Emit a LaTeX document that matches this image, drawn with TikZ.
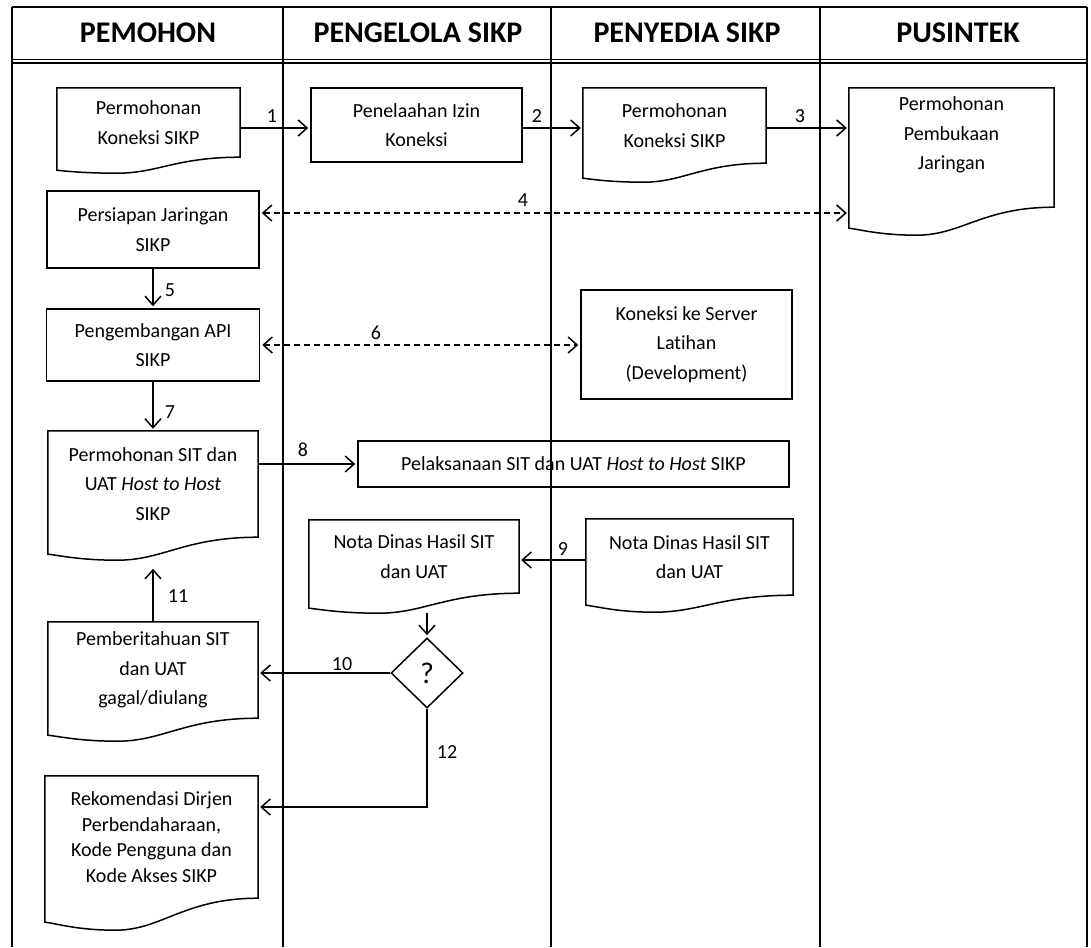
\documentclass[tikz,border=0pt]{standalone}
\usepackage{fontspec}
\setmainfont{Carlito}[Ligatures=NoCommon]
\usetikzlibrary{arrows.meta,calc,shapes.geometric}
\newcommand\docpath[4]{%
\draw[lw] (#1.north west) -- (#1.north east) -- ($(#1.south east)+(0,#2)$)
 .. controls ($(#1.south east)!0.35!(#1.south west)+(0,#2)$) and ($(#1.south west)!0.55!(#1.south east)+(0,#2+#4)$)
 .. ($(#1.south west)!0.33!(#1.south east)+(0,#2+#4)$)
 .. controls ($(#1.south west)!0.15!(#1.south east)+(0,#2+#4)$) and ($(#1.south west)!0.05!(#1.south east)+(0,#2+#3+1)$)
 .. ($(#1.south west)+(0,#2+#3)$) -- cycle;}
\begin{document}
\begin{tikzpicture}[x=1pt,y=-1pt,
 lw/.style={line width=1.5pt},
 txt/.style={font=\fontsize{20}{29.5}\selectfont, align=center, inner sep=0pt},
 proc/.style={txt, draw, lw, rectangle},
 docn/.style={txt, rectangle},
 hdr/.style={font=\bfseries\fontsize{30}{36}\selectfont, inner sep=0pt},
 lbl/.style={font=\fontsize{20}{24}\selectfont, inner sep=0pt},
 arr/.style={lw, -{Straight Barb[length=9pt,width=16pt]}, shorten >=2pt},
 darr/.style={lw, dash pattern=on 6pt off 4pt, {Straight Barb[length=9pt,width=16pt]}-{Straight Barb[length=9pt,width=16pt]}, shorten >=2pt, shorten <=2pt},
]
\useasboundingbox (0,0) rectangle (1091,947);
% frame
\draw[lw] (12,7) -- (1087,7);
\draw[lw] (12,59.5) -- (1087,59.5);
\draw[lw] (12,63) -- (1087,63);
\foreach \x in {12,283,551,820,1087} \draw[lw] (\x,7) -- (\x,947);
% headers
\node[hdr] (h1) at (148,33) {PEMOHON};
\node[hdr] (h2) at (418,33) {PENGELOLA SIKP};
\node[hdr] (h3) at (687,33) {PENYEDIA SIKP};
\node[hdr] (h4) at (958,33) {PUSINTEK};
% nodes
\node[docn, minimum width=183pt, minimum height=69pt] (n1) at (148.5,122.5) {Permohonan\\Koneksi SIKP};
\node[proc, minimum width=211pt, minimum height=74pt] (n2) at (416.5,125) {Penelaahan Izin\\Koneksi};
\node[docn, minimum width=183pt, minimum height=75pt] (n3) at (674.5,125.5) {Permohonan\\Koneksi SIKP};
\node[docn, minimum width=205pt, minimum height=94pt] (n4) at (951.5,135) {Permohonan\\Pembukaan\\Jaringan};
\node[proc, minimum width=212pt, minimum height=77pt] (n5) at (153,229.5) {Persiapan Jaringan\\SIKP};
\node[proc, minimum width=213pt, minimum height=72pt] (n6) at (153,345) {Pengembangan API\\SIKP};
\node[proc, minimum width=211pt, minimum height=109pt] (n7) at (686.5,344.5) {Koneksi ke Server\\Latihan\\(Development)};
\node[docn, minimum width=210pt, minimum height=106pt] (n8) at (153,484) {Permohonan SIT dan\\UAT \textit{Host to Host}\\SIKP};
\node[proc, minimum width=431pt, minimum height=46pt] (n9) at (573.5,464) {Pelaksanaan SIT dan UAT \textit{Host to Host} SIKP};
\node[docn, minimum width=210pt, minimum height=73pt] (n10) at (414,556.5) {Nota Dinas Hasil SIT\\dan UAT};
\node[docn, minimum width=207pt, minimum height=76pt] (n11) at (689.5,557) {Nota Dinas Hasil SIT\\dan UAT};
\node[diamond, draw, lw, minimum width=72pt, minimum height=70pt, inner sep=0pt, font=\fontsize{30}{30}\selectfont] (n12) at (427,673) {?};
\node[docn, minimum width=210pt, minimum height=96pt] (n13) at (153,670) {Pemberitahuan SIT\\dan UAT\\gagal/diulang};
\node[docn, minimum width=213pt, minimum height=122pt, font=\fontsize{20}{25.5}\selectfont] (n14) at (151.5,837) {Rekomendasi Dirjen\\Perbendaharaan,\\Kode Pengguna dan\\Kode Akses SIKP};
% document outlines
\docpath{n1}{0}{13}{16}
\docpath{n3}{0}{15}{19}
\docpath{n4}{25}{21}{28}
\docpath{n8}{0}{17}{23}
\docpath{n10}{0}{15}{20}
\docpath{n11}{0}{10}{17}
\docpath{n13}{0}{17}{23}
\docpath{n14}{0}{24}{32}
% labels
\node[lbl] (l1) at (272,116) {1};
\node[lbl] (l2) at (537,116) {2};
\node[lbl] (l3) at (800,116) {3};
\node[lbl] (l4) at (523,200) {4};
\node[lbl] (l5) at (170,290) {5};
\node[lbl] (l6) at (376,333) {6};
\node[lbl] (l7) at (170,412) {7};
\node[lbl] (l8) at (303,450) {8};
\node[lbl] (l9) at (563,549) {9};
\node[lbl] (l10) at (342,664) {10};
\node[lbl] (l11) at (178,596) {11};
\node[lbl] (l12) at (447,752) {12};
% connectors
\coordinate (c1a) at ([yshift=-3pt]n2.west);
\coordinate (c2a) at ([yshift=-3pt]n2.east);
\draw[arr] (n1.east |- c1a) -- (c1a);
\draw[arr] (c2a) -- (c2a -| n3.west);
\draw[arr] (n3.east |- c2a) -- (n4.west |- c2a);
\coordinate (c4a) at ([yshift=16.5pt]n5.east);
\coordinate (c4b) at (c4a -| n4.west);
\draw[darr] (c4a) -- (c4b);
\draw[arr] (n5.south) -- (n6.north);
\draw[darr] (n6.east) -- (n6.east -| n7.west);
\draw[arr] (n6.south) -- (n8.north);
\draw[arr] (n8.east |- n9.west) -- (n9.west);
\coordinate (c9) at ([yshift=-3pt]n11.west);
\draw[arr] (c9) -- (c9 -| n10.east);
\coordinate (c10) at ($(n12.north)+(0,-24)$);
\draw[arr] (c10) -- (n12.north);
\draw[arr] (n12.west) -- (n12.west -| n13.east);
\coordinate (c11) at ($(n13.north)+(0,-55)$);
\draw[arr] (n13.north) -- (c11);
\coordinate (c12) at ([yshift=30pt]n14.east);
\draw[arr] (n12.south) |- (c12);
\end{tikzpicture}
\end{document}
